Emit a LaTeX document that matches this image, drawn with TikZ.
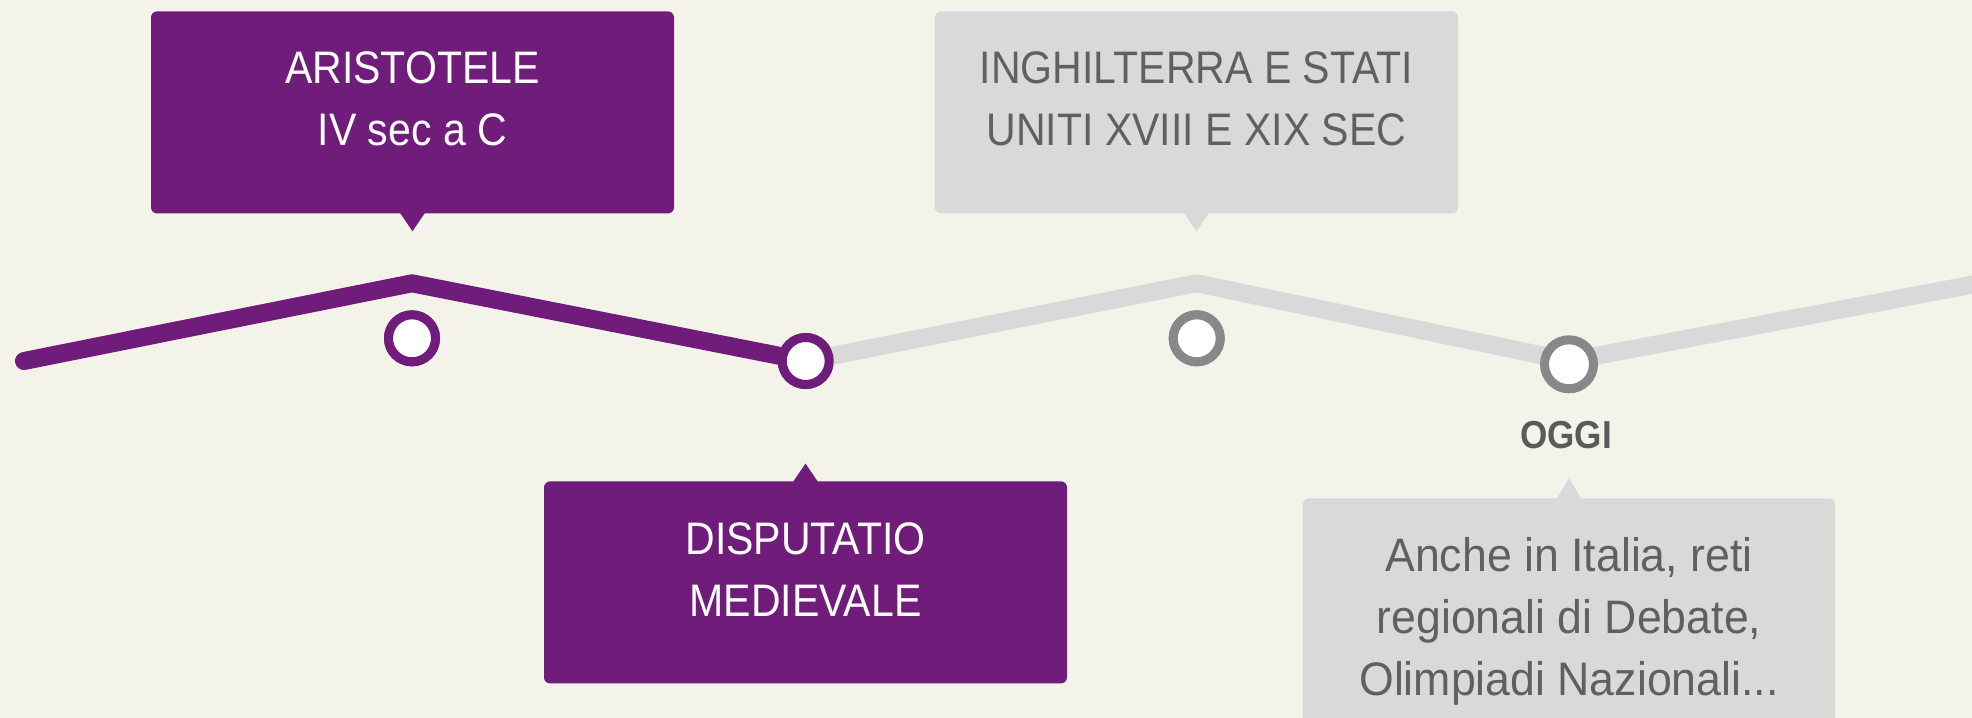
\documentclass[tikz,border=0pt]{standalone}
\usepackage{fontspec}
\setmainfont{Liberation Sans}[FakeStretch=0.9]
\newfontfamily\widefont{Liberation Sans}[FakeStretch=0.95]
\definecolor{bgc}{RGB}{243,243,234}
\definecolor{vio}{RGB}{111,28,122}
\definecolor{lgray}{RGB}{217,217,217}
\definecolor{ringgray}{RGB}{136,136,136}
\definecolor{txtgray}{RGB}{96,96,96}
\definecolor{oggigray}{RGB}{90,90,90}
\begin{document}
\begin{tikzpicture}[x=0.5pt,y=-0.5pt,
  boxbase/.style={rectangle, rounded corners=3pt, inner sep=0pt, minimum width=261.5pt, minimum height=101pt},
  vbox/.style={boxbase, fill=vio},
  gbox/.style={boxbase, fill=lgray},
  boxtext/.style={inner sep=0pt, anchor=base, font=\fontsize{22.8pt}{31pt}\selectfont},
  wtxt/.style={boxtext, text=white},
  gtxt/.style={boxtext, text=txtgray},
  gtxtw/.style={inner sep=0pt, anchor=base, text=txtgray, font=\widefont\fontsize{23.5pt}{31pt}\selectfont},
  dotv/.style={circle, draw=vio, fill=white, line width=4.5pt, minimum size=23.5pt, inner sep=0pt},
  dotg/.style={circle, draw=ringgray, fill=white, line width=4.5pt, minimum size=23.5pt, inner sep=0pt},
  tline/.style={line width=9pt, line join=round}
]
\useasboundingbox (0,0) rectangle (1972,718);
\clip (0,0) rectangle (1972,718);
\fill[bgc] (0,0) rectangle (1972,718);

% timeline vertices
\coordinate (start) at (24,361);
\coordinate (pk1) at (412,283.3);
\coordinate (pk2) at (1196.7,283.3);
\coordinate (v4) at (1569,361);
\coordinate (endR) at (2010,277.5);

% dots (placed first so the lines can refer to them)
\node[dotv] (c1) at (412,338.3) {};
\node[dotv] (c2) at (805.7,361) {};
\node[dotg] (c3) at (1196.7,338.3) {};

% lines
\draw[tline, lgray] (c2.center) -- (pk2) -- (v4) -- (endR);
\draw[tline, vio, line cap=round] (start) -- (pk1) -- (c2.center);

% dots on top of the lines
\node[dotv] (c2b) at (c2.center) {};
\node[dotg, minimum size=24.5pt] (c4) at (1569,364.3) {};
\node[dotv] (c1b) at (c1.center) {};
\node[dotg] (c3b) at (c3.center) {};

% boxes
\node[vbox, anchor=north] (boxA) at (412.5,11) {};
\fill[vio] ([xshift=-6.25pt,yshift=0.5pt]boxA.south) -- ++(12.5,18.5) -- ++(12.5,-18.5) -- cycle;
\node[wtxt] (tA1) at (412.5,83) {ARISTOTELE};
\node[wtxt] (tA2) at (412.5,145) {IV sec a C};

\node[gbox, anchor=north] (boxB) at (1196.5,11) {};
\fill[lgray] ([xshift=-6.25pt,yshift=0.5pt]boxB.south) -- ++(12.5,18.5) -- ++(12.5,-18.5) -- cycle;
\node[gtxt] (tB1) at (1196.5,83) {INGHILTERRA E STATI};
\node[gtxt] (tB2) at (1196.5,145) {UNITI XVIII E XIX SEC};

\node[vbox, anchor=north] (boxC) at (805.5,481) {};
\fill[vio] ([xshift=-6.25pt,yshift=-0.5pt]boxC.north) -- ++(12.5,-18.5) -- ++(12.5,18.5) -- cycle;
\node[wtxt] (tC1) at (805.5,554) {DISPUTATIO};
\node[wtxt] (tC2) at (805.5,616) {MEDIEVALE};

\node[inner sep=0pt, anchor=base, text=oggigray, font=\fontsize{19.5pt}{24pt}\selectfont\bfseries] (oggi) at (1566,448) {OGGI};

\node[gbox, anchor=north, minimum width=266pt, minimum height=130pt] (boxD) at (1569,498) {};
\fill[lgray] ([xshift=-6.25pt,yshift=-0.5pt]boxD.north) -- ++(12.5,-20.5) -- ++(12.5,20.5) -- cycle;
\node[gtxtw] (tD1) at (1569,571.7) {Anche in Italia, reti};
\node[gtxtw] (tD2) at (1569,633.3) {regionali di Debate,};
\node[gtxtw] (tD3) at (1569,695) {Olimpiadi Nazionali...};
\end{tikzpicture}
\end{document}
